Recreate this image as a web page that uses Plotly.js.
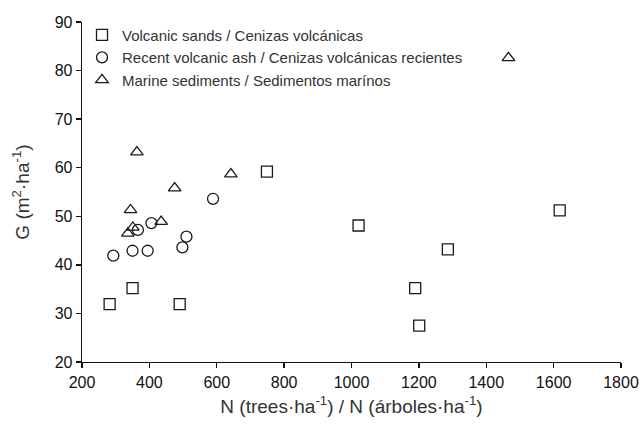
<!DOCTYPE html>
<html>
<head>
<meta charset="utf-8">
<script src="https://cdn.plot.ly/plotly-3.0.1.min.js"></script>
<style>html,body{margin:0;padding:0;background:#fff}#chart{width:643px;height:432px}</style>
</head>
<body>
<div id="chart"></div>
<script>
// Volcanic sands / Cenizas volcánicas
const sandsN = [282, 350, 490, 749, 1021, 1286, 1189, 1201, 1618];
const sandsG = [31.9, 35.2, 31.9, 59.2, 48.1, 43.2, 35.2, 27.5, 51.2];
// Recent volcanic ash / Cenizas volcánicas recientes
const ashN = [589, 406, 366, 293, 350, 395, 498, 510];
const ashG = [53.6, 48.6, 47.2, 41.9, 42.9, 42.9, 43.6, 45.8];
// Marine sediments / Sedimentos marínos
const marineN = [363, 475, 642, 1466, 344, 435, 351, 336];
const marineG = [63.2, 55.8, 58.7, 82.6, 51.3, 48.9, 47.7, 46.5];

const seriesNames = [
  'Volcanic sands / Cenizas volcánicas',
  'Recent volcanic ash / Cenizas volcánicas recientes',
  'Marine sediments / Sedimentos marínos'
];
const xTicks = [200, 400, 600, 800, 1000, 1200, 1400, 1600, 1800];
const yTicks = [20, 30, 40, 50, 60, 70, 80, 90];

const mk = (sym) => ({symbol: sym, size: 11, color: '#1a1a1a', line: {color: '#1a1a1a', width: 1.3}});
const data = [
  {x: sandsN, y: sandsG, name: seriesNames[0], mode: 'markers', type: 'scatter', marker: mk('square-open')},
  {x: ashN, y: ashG, name: seriesNames[1], mode: 'markers', type: 'scatter', marker: mk('circle-open')},
  {x: marineN, y: marineG, name: seriesNames[2], mode: 'markers', type: 'scatter', marker: mk('triangle-up-open')}
];

const layout = {
  width: 643, height: 432,
  margin: {l: 82, r: 22, t: 22, b: 70},
  paper_bgcolor: '#fff', plot_bgcolor: '#fff',
  font: {family: 'Liberation Sans, Arial, sans-serif', size: 16, color: '#111'},
  showlegend: true,
  legend: {x: 0.0, xanchor: 'left', y: 1.01, yanchor: 'top', bgcolor: 'rgba(0,0,0,0)',
           font: {size: 15, color: '#333'}, tracegroupgap: 0},
  xaxis: {
    range: [200, 1800], tickvals: xTicks, ticktext: xTicks.map(String),
    showgrid: false, zeroline: false, showline: true, linecolor: '#111', linewidth: 1.3,
    ticks: 'outside', ticklen: 5, tickcolor: '#111', tickwidth: 1.3,
    tickfont: {size: 16, color: '#111'},
    title: {text: 'N (trees·ha<sup>-1</sup>) / N (árboles·ha<sup>-1</sup>)', font: {size: 19, color: '#333'}, standoff: 10}
  },
  yaxis: {
    range: [20, 90], tickvals: yTicks, ticktext: yTicks.map(String),
    showgrid: false, zeroline: false, showline: true, linecolor: '#111', linewidth: 1.3,
    ticks: 'outside', ticklen: 5, tickcolor: '#111', tickwidth: 1.3,
    tickfont: {size: 16, color: '#111'},
    title: {text: 'G (m<sup>2</sup>·ha<sup>-1</sup>)', font: {size: 19, color: '#333'}, standoff: 20}
  }
};
Plotly.newPlot('chart', data, layout, {displayModeBar: false, staticPlot: true});
</script>
</body>
</html>
